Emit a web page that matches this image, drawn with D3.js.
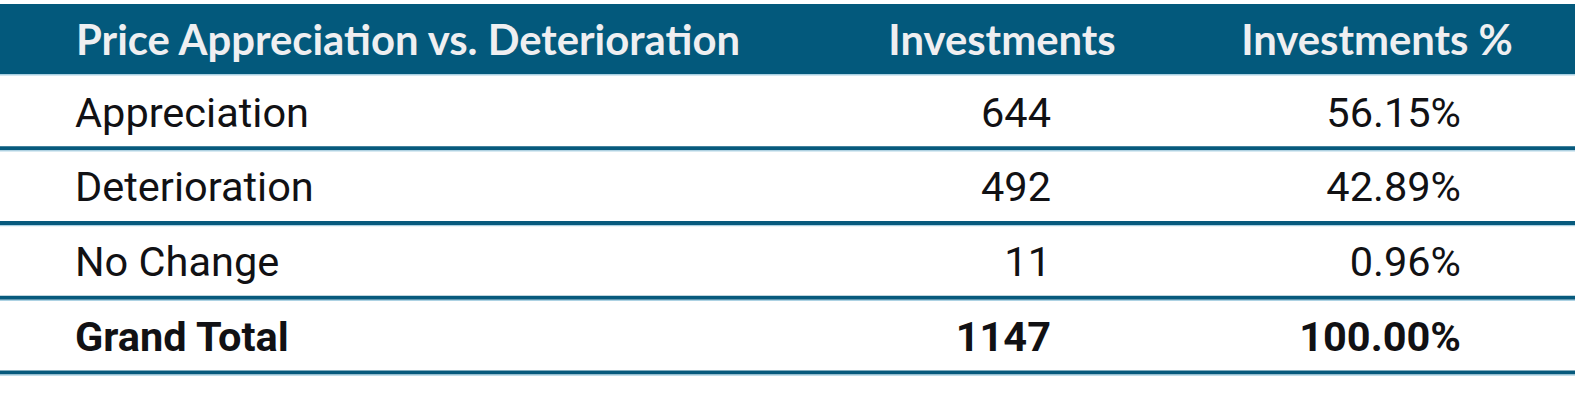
<!DOCTYPE html>
<html><head><meta charset="utf-8">
<script src="https://cdn.jsdelivr.net/npm/d3@7"></script>
<style>html,body{margin:0;padding:0;background:#fff;overflow:hidden}</style>
</head><body>
<svg id="chart" width="1575" height="401"></svg>
<script>
const headers = ["Price Appreciation vs. Deterioration", "Investments", "Investments %"];
const categories = ["Appreciation", "Deterioration", "No Change", "Grand Total"];
const investments = [644, 492, 11, 1147];
const investmentsPct = ["56.15%", "42.89%", "0.96%", "100.00%"];

const W = 1575;
const svg = d3.select("#chart");
const y = d3.scaleBand().domain(d3.range(categories.length)).range([74, 373]);

// header band
svg.append("rect").attr("x", 0).attr("y", 4).attr("width", W).attr("height", 70).attr("fill", "#03597c");
svg.append("rect").attr("x", 0).attr("y", 74).attr("width", W).attr("height", 1.5).attr("fill", "#a9d0e2");

const hx = [{x: 76, a: "start"}, {x: 1002, a: "middle"}, {x: 1377, a: "middle"}];
svg.selectAll("text.h").data(headers).join("text").attr("class", "h")
  .attr("x", (d, i) => hx[i].x).attr("y", 55).attr("text-anchor", (d, i) => hx[i].a)
  .attr("font-family", "Lato").attr("font-weight", 700).attr("font-size", 41.8)
  .attr("fill", "#efeff1").text(d => d);

const rows = svg.selectAll("g.row").data(categories).join("g").attr("class", "row")
  .attr("transform", (d, i) => `translate(0,${y(i)})`);

rows.append("rect").attr("x", 0).attr("y", y.bandwidth() - 2.5).attr("width", W).attr("height", 4).attr("fill", "#075a7d");
rows.append("rect").attr("x", 0).attr("y", y.bandwidth() + 1.5).attr("width", W).attr("height", 1.2).attr("fill", "#a9d0e2");

const isTotal = d => d === "Grand Total";
const txt = (sel) => sel.attr("y", 52.5).attr("font-family", "Roboto").attr("font-size", 41.5)
  .attr("fill", "#111114").attr("font-weight", d => isTotal(d) ? 700 : 400);

rows.append("text").call(txt).attr("x", 75).text(d => d);
rows.append("text").call(txt).attr("x", 1051).attr("text-anchor", "end")
  .text((d, i) => investments[i]);
rows.append("text").call(txt).attr("x", 1461).attr("text-anchor", "end")
  .text((d, i) => investmentsPct[i]);
</script>
</body></html>
